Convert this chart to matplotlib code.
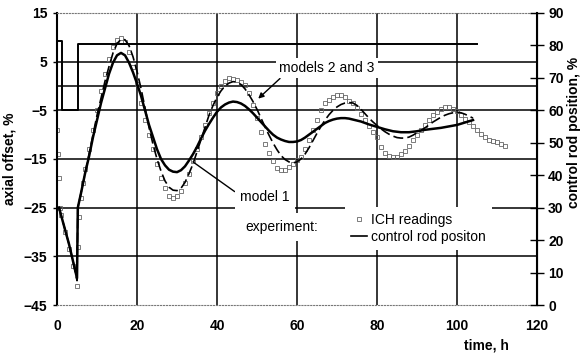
"""Axial offset transient: ICH readings vs. models 1-3, with control rod position."""

import matplotlib
matplotlib.use("Agg")
import matplotlib.pyplot as plt
from matplotlib.lines import Line2D

plt.rcParams["font.family"] = ["Liberation Sans", "DejaVu Sans"]
plt.rcParams["font.size"] = 10

# experiment: ICH readings (axial offset, %)
ich_time = [0, 0.25, 0.5, 0.75, 1, 2, 3, 4, 5, 5.25, 5.5, 6, 6.5, 7, 8, 9, 10, 11,
            12, 13, 14, 15, 16, 17, 18, 19, 20, 21, 22, 23, 24, 25, 26, 27, 28, 29,
            30, 31, 32, 33, 34, 35, 36, 37, 38, 39, 40, 41, 42, 43, 44, 45, 46, 47,
            48, 49, 50, 51, 52, 53, 54, 55, 56, 57, 58, 59, 60, 61, 62, 63, 64, 65,
            66, 67, 68, 69, 70, 71, 72, 73, 74, 75, 76, 77, 78, 79, 80, 81, 82, 83,
            84, 85, 86, 87, 88, 89, 90, 91, 92, 93, 94, 95, 96, 97, 98, 99, 100,
            101, 102, 103, 104, 105, 106, 107, 108, 109, 110, 111, 112]
ich_ao = [-9, -14, -19, -25, -26.5, -30, -33.5, -37, -41, -33, -27, -23, -20, -17,
          -13, -9, -5, -1, 2.5, 5.5, 8, 9.5, 9.8, 9, 7, 4, 0.5, -3.5, -7, -10, -13,
          -16, -19, -21, -22.5, -23, -22.5, -21.5, -20, -18, -15.5, -13, -10.5, -8,
          -5.5, -3.5, -1.5, 0, 1, 1.6, 1.5, 1.2, 0.8, 0.2, -1.5, -4, -6.5, -9.5,
          -12, -13.8, -15.5, -16.8, -17.3, -17.2, -16.7, -16, -15.3, -14.5, -13,
          -11, -9, -7, -5, -3.5, -2.8, -2.2, -1.8, -1.9, -2.3, -3, -3.5, -4.5,
          -5.8, -7, -8.2, -9.5, -10.5, -12.5, -13.8, -14.3, -14.6, -14.5, -14,
          -13.3, -12.3, -11, -10, -9, -8, -7, -6, -5.3, -4.7, -4.4, -4.4, -4.7,
          -5.2, -6, -6.8, -7.5, -8.2, -9, -9.8, -10.5, -11, -11.3, -11.6, -12, -12.3]

# model 1 (solid)
m1_time = [0.5, 1, 2, 3, 4, 5, 5.2, 6, 7, 8, 9, 10, 11, 12, 13, 14, 15, 16, 17, 18,
           19, 20, 21, 22, 23, 24, 25, 26, 27, 28, 29, 30, 31, 32, 33, 34, 35, 36,
           37, 38, 39, 40, 41, 42, 43, 44, 45, 46, 47, 48, 49, 50, 51, 52, 53, 54,
           55, 56, 57, 58, 59, 60, 61, 62, 63, 64, 65, 66, 67, 68, 69, 70, 71, 72,
           73, 74, 76, 78, 80, 82, 84, 86, 88, 90, 92, 94, 96, 98, 100, 102, 104]
m1_ao = [-25, -26.5, -29.5, -32.5, -36, -39.5, -25, -22, -18, -14.5, -10.5, -7,
         -3.5, -0.5, 2.5, 4.8, 6.3, 6.8, 6.3, 4.8, 2.8, 0.5, -2, -5, -8, -10.5, -13,
         -15, -16.3, -17.2, -17.6, -17.7, -17.3, -16.5, -15.3, -14, -12.5, -10.8,
         -9.2, -7.8, -6.5, -5.3, -4.4, -3.8, -3.4, -3.2, -3.3, -3.6, -4.1, -4.8,
         -5.6, -6.5, -7.4, -8.3, -9.2, -10, -10.6, -11, -11.3, -11.5, -11.5, -11.4,
         -11.1, -10.6, -10, -9.4, -8.8, -8.2, -7.6, -7.2, -6.9, -6.7, -6.6, -6.6,
         -6.7, -6.9, -7.3, -7.9, -8.4, -8.9, -9.3, -9.5, -9.5, -9.3, -9.0, -8.8,
         -8.6, -8.3, -8.0, -7.5, -7.0]

# models 2 and 3 (dashed)
m23_time = [0.5, 1, 2, 3, 4, 5, 5.2, 6, 7, 8, 9, 10, 11, 12, 13, 14, 15, 16, 17, 18,
            19, 20, 21, 22, 23, 24, 25, 26, 27, 28, 29, 30, 31, 32, 33, 34, 35, 36,
            37, 38, 39, 40, 41, 42, 43, 44, 45, 46, 47, 48, 49, 50, 51, 52, 53, 54,
            55, 56, 57, 58, 59, 60, 61, 62, 63, 64, 65, 66, 67, 68, 69, 70, 71, 72,
            73, 74, 75, 76, 77, 78, 79, 80, 81, 82, 83, 84, 85, 86, 87, 88, 89, 90,
            91, 92, 93, 94, 95, 96, 97, 98, 99, 100, 101, 102, 103, 104]
m23_ao = [-25, -26.5, -29.5, -32.5, -36, -40, -25, -22, -18, -14, -10, -6, -2.5, 1,
          4, 6.8, 8.7, 9.6, 9.5, 8.3, 6, 3, -0.5, -4.5, -8.5, -12, -15, -17.5,
          -19.5, -20.8, -21.4, -21.5, -21, -19.8, -18, -16, -13.5, -11, -8.5, -6,
          -4, -2.3, -1, 0, 0.6, 0.9, 0.8, 0.3, -0.6, -1.8, -3.2, -4.8, -6.6, -8.4,
          -10.1, -11.7, -13.1, -14.3, -15.1, -15.6, -15.8, -15.6, -15, -14, -12.7,
          -11.2, -9.7, -8.3, -7, -5.9, -5, -4.3, -3.8, -3.5, -3.4, -3.5, -4, -4.8,
          -5.7, -6.6, -7.4, -8.1, -8.8, -9.4, -9.9, -10.3, -10.6, -10.7, -10.7,
          -10.5, -10.1, -9.6, -9.1, -8.6, -8, -7.4, -6.9, -6.4, -6.0, -5.7, -5.5,
          -5.4, -5.5, -5.8, -6.2, -6.6]

# control rod position, %
rod_time = [0, 1.3, 1.3, 5.2, 5.2, 105]
rod_pos = [81.5, 81.5, 60, 60, 80.5, 80.5]

x_ticks = [0, 20, 40, 60, 80, 100, 120]
ao_ticks = [15, 5, -5, -15, -25, -35, -45]
rod_ticks = [0, 10, 20, 30, 40, 50, 60, 70, 80, 90]


def main():
    fig = plt.figure(figsize=(5.86, 3.54), dpi=100)
    ax = fig.add_axes([0.0973, 0.1384, 0.8191, 0.8249])
    ax.set_xlim(0, 120)
    ax.set_ylim(-45, 15)

    # grid drawn by hand so the frame edges can stay dotted
    for x in x_ticks[1:-1]:
        ax.axvline(x, color="black", lw=1.1, zorder=1)
    for y in ao_ticks[1:-1] + [0]:
        ax.axhline(y, color="black", lw=1.1, zorder=1)

    ax.plot(ich_time, ich_ao, ls="none", marker="s", ms=3.2, mfc="none",
            mec="#666666", mew=0.6, zorder=2)
    ax.plot(m23_time, m23_ao, color="black", lw=1.2, ls=(0, (6, 2.5)), zorder=3)
    ax.plot(m1_time, m1_ao, color="black", lw=1.8, zorder=4)

    ax.set_xticks(x_ticks)
    ax.set_yticks(ao_ticks)
    ax.tick_params(axis="x", length=0, pad=10)
    ax.tick_params(axis="y", direction="out", length=3, width=1, pad=4)
    for lab in ax.get_xticklabels() + ax.get_yticklabels():
        lab.set_fontweight("bold")
    ax.set_ylabel("axial offset, %", fontweight="bold")
    ax.yaxis.set_label_coords(-0.085, 0.5)
    for side in ("top", "bottom"):
        ax.spines[side].set_linestyle(":")
        ax.spines[side].set_color("#777777")
    ax.spines["left"].set_linewidth(1.5)

    ax2 = ax.twinx()
    ax2.set_ylim(0, 90)
    ax2.plot(rod_time, rod_pos, color="black", lw=1.4, zorder=5)
    ax2.set_yticks(rod_ticks)
    ax2.tick_params(axis="y", direction="inout", length=10, width=1, pad=3)
    for lab in ax2.get_yticklabels():
        lab.set_fontweight("bold")
    ax2.set_ylabel("control rod position, %", fontweight="bold")
    ax2.yaxis.set_label_coords(1.063, 0.59)
    ax2.spines["right"].set_linewidth(1.5)
    for side in ("top", "bottom", "left"):
        ax2.spines[side].set_visible(False)

    white = dict(facecolor="white", edgecolor="none", pad=2.5)
    ax2.annotate("models 2 and 3", xy=(50.3, -2.6), xytext=(55.5, 3.7),
                 xycoords=ax.transData, textcoords=ax.transData,
                 ha="left", va="center", bbox=white, zorder=10,
                 arrowprops=dict(arrowstyle="-|>", color="black", lw=1,
                                 mutation_scale=8, shrinkA=0, shrinkB=0,
                                 relpos=(0.05, 0.0)))
    ax2.annotate("model 1", xy=(34, -15.6), xytext=(45.8, -22.8),
                 xycoords=ax.transData, textcoords=ax.transData,
                 ha="left", va="center", bbox=dict(facecolor="white",
                                                   edgecolor="none", pad=4),
                 zorder=10,
                 arrowprops=dict(arrowstyle="-", color="black", lw=1,
                                 shrinkA=0, shrinkB=0, relpos=(0.0, 0.6)))
    ax2.text(47, -29, "experiment:", transform=ax.transData, ha="left",
             va="center", bbox=dict(facecolor="white", edgecolor="none", pad=5),
             zorder=10)

    handles = [
        Line2D([], [], ls="none", marker="s", ms=3.2, mfc="none", mec="#666666",
               mew=0.6),
        Line2D([], [], color="black", lw=1.2),
    ]
    leg = ax2.legend(handles, ["ICH readings", "control rod positon"],
                     loc="upper left", bbox_to_anchor=(0.6, 0.335),
                     borderaxespad=0, borderpad=0.4, handlelength=1.2,
                     handletextpad=0.3, labelspacing=0.25, fancybox=False,
                     framealpha=1, facecolor="white", edgecolor="none")
    leg.set_zorder(10)

    ax.text(0.895, -0.137, "time, h", transform=ax.transAxes, ha="center",
            va="center", fontweight="bold")

    fig.savefig("out.png", dpi=100)


if __name__ == "__main__":
    main()
